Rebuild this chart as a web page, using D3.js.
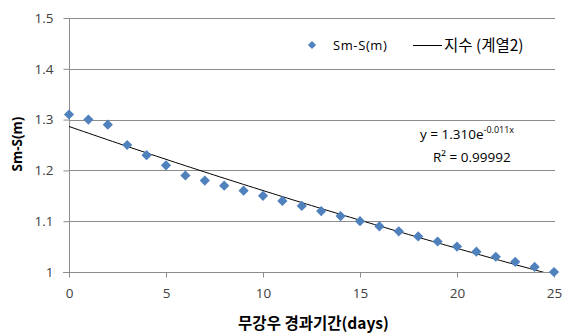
<!DOCTYPE html>
<html><head><meta charset="utf-8">
<script src="https://cdn.jsdelivr.net/npm/d3@7"></script>
<style>
body{margin:0;background:#fff;}
svg{display:block;font-family:"Open Sans","Noto Sans CJK KR",sans-serif;}
</style></head><body>
<div id="chart"></div>
<script>
const days = [0,1,2,3,4,5,6,7,8,9,10,11,12,13,14,15,16,17,18,19,20,21,22,23,24,25];
const smS = [1.31,1.30,1.29,1.25,1.23,1.21,1.19,1.18,1.17,1.16,1.15,1.14,1.13,1.12,1.11,1.10,1.09,1.08,1.07,1.06,1.05,1.04,1.03,1.02,1.01,1.00];
const xTicks = [0,5,10,15,20,25];
const yTicks = [1,1.1,1.2,1.3,1.4,1.5];
const seriesName = "Sm-S(m)";
const trendName = "지수 (계열2)";
const eqText = ["y = 1.310e", "-0.011x"];
const r2Text = "R² = 0.99992";
const xTitle = "무강우 경과기간(days)";
const yTitle = "Sm-S(m)";

const W = 568, H = 334;
const m = {left:69, right:14, top:18, bottom:62};
const svg = d3.select("#chart").append("svg").attr("width",W).attr("height",H);
const x = d3.scaleLinear().domain([0,25]).range([m.left, W-m.right]);
const y = d3.scaleLinear().domain([1,1.5]).range([H-m.bottom, m.top]);

// gridlines
svg.append("g").selectAll("line").data(yTicks.filter(d=>d>1)).join("line")
  .attr("x1",x(0)).attr("x2",x(25)+1).attr("y1",d=>Math.round(y(d))+0.5).attr("y2",d=>Math.round(y(d))+0.5)
  .attr("stroke","#8c8c8c").attr("stroke-width",1);

// axes
const yAxis = svg.append("g").attr("transform",`translate(${x(0)+0.5},0)`)
  .call(d3.axisLeft(y).tickValues(yTicks).tickFormat(d=>d===1?"1":d3.format(".1f")(d)).tickSize(6).tickPadding(10));
const xAxis = svg.append("g").attr("transform",`translate(0,${Math.round(y(1))+0.5})`)
  .call(d3.axisBottom(x).tickValues(xTicks).tickSize(5).tickPadding(11));
[yAxis,xAxis].forEach(a=>{
  a.select(".domain").attr("stroke","#8c8c8c");
  a.selectAll(".tick line").attr("stroke","#8c8c8c");
  a.selectAll("text").attr("fill","#404040").style("font-size","13.5px").style("font-family","'Open Sans',sans-serif");
});
yAxis.select(".domain").attr("d",`M-0,${y(1)}V${y(1.5)}`);
xAxis.select(".domain").attr("d",`M${x(0)-6},0H${x(25)+1}`);

// trendline: exponential regression (least squares on ln y), clipped to plot
const mx = d3.mean(days), ml = d3.mean(smS, v=>Math.log(v));
const b = d3.sum(days,(d,i)=>(d-mx)*(Math.log(smS[i])-ml))/d3.sum(days,d=>(d-mx)*(d-mx));
const a = Math.exp(ml - b*mx);
svg.append("clipPath").attr("id","clip").append("rect")
  .attr("x",x(0)).attr("y",y(1.5)).attr("width",x(25)-x(0)).attr("height",y(1)-y(1.5));
const tx = d3.range(0,25.01,0.25);
svg.append("path").attr("clip-path","url(#clip)")
  .attr("d",d3.line().x(d=>x(d)).y(d=>y(a*Math.exp(b*d)))(tx))
  .attr("fill","none").attr("stroke","#000").attr("stroke-width",1);

// markers
svg.append("g").selectAll("path").data(days).join("path")
  .attr("transform",(d,i)=>`translate(${x(d)},${y(smS[i])}) rotate(45)`)
  .attr("d",d3.symbol().type(d3.symbolSquare).size(52))
  .attr("fill","#4f81bd");

// legend
svg.append("path").attr("transform","translate(312,45) rotate(45)")
  .attr("d",d3.symbol().type(d3.symbolSquare).size(34)).attr("fill","#4f81bd");
svg.append("text").attr("x",333).attr("y",50).text(seriesName)
  .attr("fill","#000").style("font-size","13px").style("letter-spacing","0.6px");
svg.append("line").attr("x1",413).attr("x2",442).attr("y1",45.5).attr("y2",45.5).attr("stroke","#000");
svg.append("text").attr("x",444).attr("y",51).text(trendName)
  .attr("fill","#000").style("font-size","15.5px").style("font-family","'Noto Sans CJK KR',sans-serif");

// equation
const eq = svg.append("text").attr("x",420).attr("y",139).attr("fill","#000").style("font-size","13.5px");
eq.append("tspan").text(eqText[0]);
eq.append("tspan").text(eqText[1]).attr("dy",-6).style("font-size","9px");
svg.append("text").attr("x",433).attr("y",162).text(r2Text).attr("fill","#000").style("font-size","13.5px");

// axis titles
svg.append("text").attr("x",x(12.5)+2).attr("y",329).attr("text-anchor","middle")
  .text(xTitle).attr("fill","#000").style("font-size","15.5px").style("font-weight","bold")
  .style("font-family","'Noto Sans CJK KR',sans-serif");
svg.append("text").attr("transform",`translate(22,144) rotate(-90)`).attr("text-anchor","middle")
  .text(yTitle).attr("fill","#000").style("font-size","13.5px").style("font-weight","bold");
</script></body></html>
